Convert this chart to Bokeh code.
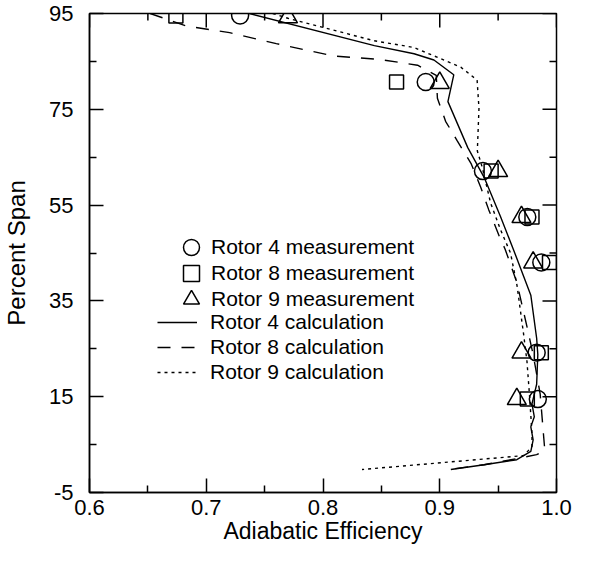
import math
from bokeh.plotting import figure
from bokeh.models import Range1d, LinearAxis, FixedTicker, Legend, LegendItem
from bokeh.embed import file_html
from bokeh.resources import INLINE

# ---------------- data ----------------
r4_meas_eff = [0.729, 0.888, 0.937, 0.975, 0.987, 0.983, 0.984]
r4_meas_span = [94.6, 80.7, 62.1, 52.5, 43.0, 24.2, 14.5]
r8_meas_eff = [0.674, 0.863, 0.944, 0.979, 0.994, 0.987, 0.975]
r8_meas_span = [94.5, 80.7, 62.1, 52.5, 43.0, 24.2, 14.5]
r9_meas_eff = [0.770, 0.900, 0.950, 0.970, 0.980, 0.970, 0.966]
r9_meas_span = [94.2, 80.5, 62.1, 52.5, 43.0, 24.2, 14.5]

r4_calc_eff = [0.737, 0.844, 0.878, 0.895, 0.912, 0.907, 0.924, 0.938, 0.952, 0.963,
               0.978, 0.983, 0.984, 0.983, 0.979, 0.981, 0.978, 0.980, 0.978, 0.966,
               0.938, 0.9095]
r4_calc_span = [95.0, 88.3, 86.6, 85.3, 82.2, 76.6, 67.0, 60.8, 52.6, 45.8,
                36.2, 27.2, 23.8, 17.6, 13.5, 10.8, 8.7, 6.0, 3.6, 1.85,
                0.8, -0.2]

r8_calc_eff = [0.652, 0.683, 0.720, 0.760, 0.810, 0.849, 0.881, 0.897, 0.898, 0.905,
               0.915, 0.927, 0.935, 0.942, 0.951, 0.956, 0.966, 0.975, 0.980, 0.986,
               0.989, 0.990, 0.983, 0.969, 0.938, 0.911]
r8_calc_span = [95.0, 92.4, 91.0, 88.7, 86.1, 85.4, 84.2, 82.1, 77.3, 72.5,
                68.4, 63.6, 58.8, 54.0, 48.5, 45.8, 38.9, 29.3, 23.8, 15.6,
                6.7, 3.8, 2.9, 2.2, 0.8, -0.1]

r9_calc_eff = [0.757, 0.770, 0.844, 0.878, 0.918, 0.932, 0.9336, 0.9322, 0.9364, 0.9436,
               0.952, 0.9606, 0.9662, 0.9719, 0.9747, 0.977, 0.979, 0.979, 0.972, 0.8334]
r9_calc_span = [95.0, 94.0, 89.3, 87.9, 83.8, 81.1, 75.2, 66.3, 62.9, 55.4,
                49.9, 45.0, 38.2, 27.9, 22.4, 14.9, 7.3, 4.6, 2.7, -0.2]

x_min, x_max = 0.6, 1.0
y_min, y_max = -5, 95
x_ticks = [0.6, 0.7, 0.8, 0.9, 1.0]
x_minor = [0.65, 0.75, 0.85, 0.95]
x_tick_labels = ["0.6", "0.7", "0.8", "0.9", "1.0"]
y_ticks = [-5, 15, 35, 55, 75, 95]
y_minor = [5, 25, 45, 65, 85]
y_tick_labels = ["-5", "15", "35", "55", "75", "95"]

legend_labels = ["Rotor 4 measurement", "Rotor 8 measurement", "Rotor 9 measurement",
                 "Rotor 4 calculation", "Rotor 8 calculation", "Rotor 9 calculation"]

FONT = "Liberation Sans"
MAJ, MIN, LW = 14, 7, 1.5

p = figure(width=574, height=550, x_range=Range1d(x_min, x_max), y_range=Range1d(y_min, y_max),
           output_backend="svg", toolbar_location=None,
           min_border_left=86, min_border_right=18, min_border_top=13, min_border_bottom=58,
           x_axis_type=None, y_axis_type=None)
p.grid.visible = False
p.outline_line_color = "black"
p.outline_line_width = LW
p.background_fill_color = "white"
p.border_fill_color = "white"


def style_axis(ax, ticks, minor, tick_font, title_font):
    ax.ticker = FixedTicker(ticks=ticks, minor_ticks=minor)
    ax.axis_line_color = "black"
    ax.axis_line_width = LW
    ax.major_tick_in = MAJ
    ax.major_tick_out = 0
    ax.minor_tick_in = MIN
    ax.minor_tick_out = 0
    ax.major_tick_line_width = LW
    ax.minor_tick_line_width = LW
    ax.major_tick_line_color = "black"
    ax.minor_tick_line_color = "black"
    ax.major_label_text_font = FONT
    ax.major_label_text_font_size = tick_font
    ax.major_label_text_color = "black"
    ax.axis_label_text_font = FONT
    ax.axis_label_text_font_size = title_font
    ax.axis_label_text_font_style = "normal"
    ax.axis_label_text_color = "black"


xb = LinearAxis(axis_label="Adiabatic Efficiency")
style_axis(xb, x_ticks, x_minor, "22px", "23px")
xb.major_label_standoff = 7
xb.axis_label_standoff = 0
xb.major_label_overrides = dict(zip(x_ticks, x_tick_labels))
p.add_layout(xb, "below")

yl = LinearAxis(axis_label="Percent Span")
style_axis(yl, y_ticks, y_minor, "22px", "24px")
yl.major_label_standoff = 16
yl.axis_label_standoff = 16
yl.major_label_overrides = dict(zip(y_ticks, y_tick_labels))
p.add_layout(yl, "left")

# mirrored inward ticks on top and right frame edges
tick_style = dict(line_color="black", line_width=LW, length_units="screen")
p.ray(x=x_ticks, y=[y_max] * len(x_ticks), length=MAJ, angle=-math.pi / 2, **tick_style)
p.ray(x=x_minor, y=[y_max] * len(x_minor), length=MIN, angle=-math.pi / 2, **tick_style)
p.ray(x=[x_max] * len(y_ticks), y=y_ticks, length=MAJ, angle=math.pi, **tick_style)
p.ray(x=[x_max] * len(y_minor), y=y_minor, length=MIN, angle=math.pi, **tick_style)

# ---------------- calculation lines ----------------
l4 = p.line(r4_calc_eff, r4_calc_span, line_color="black", line_width=1.4)
l8 = p.line(r8_calc_eff, r8_calc_span, line_color="black", line_width=1.4, line_dash="13 11")
l9 = p.line(r9_calc_eff, r9_calc_span, line_color="black", line_width=1.4, line_dash="3 4")

# ---------------- measurements ----------------
m4 = p.scatter(r4_meas_eff, r4_meas_span, marker="circle", size=17, fill_alpha=0,
               line_color="black", line_width=1.5)
m8 = p.scatter(r8_meas_eff, r8_meas_span, marker="square", size=14, fill_alpha=0,
               line_color="black", line_width=1.5)
m9 = p.scatter(r9_meas_eff, r9_meas_span, marker="triangle", size=19, fill_alpha=0,
               line_color="black", line_width=1.5)


def make_legend(items, loc, glyph_w, glyph_h, label_h, spacing, standoff):
    lg = Legend(items=items, location=loc, orientation="vertical")
    lg.background_fill_alpha = 0
    lg.border_line_alpha = 0
    lg.padding = 0
    lg.margin = 0
    lg.spacing = spacing
    lg.glyph_width = glyph_w
    lg.glyph_height = glyph_h
    lg.label_height = label_h
    lg.label_standoff = standoff
    lg.label_text_font = FONT
    lg.label_text_font_size = "21px"
    lg.label_text_color = "black"
    return lg


# marker legend entries: one legend each, 40x40 glyph boxes so markers are full size
marker_renderers = [m4, m8, m9]
marker_legend_y = [225, 199, 173]
for lab, rend, ly in zip(legend_labels[:3], marker_renderers, marker_legend_y):
    lg = make_legend([LegendItem(label=lab, renderers=[rend])], (82, ly), 40, 40, 20, 0, 0)
    p.add_layout(lg, "center")

leg2 = make_legend([LegendItem(label=legend_labels[3], renderers=[l4]),
                    LegendItem(label=legend_labels[4], renderers=[l8]),
                    LegendItem(label=legend_labels[5], renderers=[l9])],
                   (68, 108), 40, 24, 24, 1, 13)
p.add_layout(leg2, "center")

open("out.html", "w").write(file_html(p, INLINE))
